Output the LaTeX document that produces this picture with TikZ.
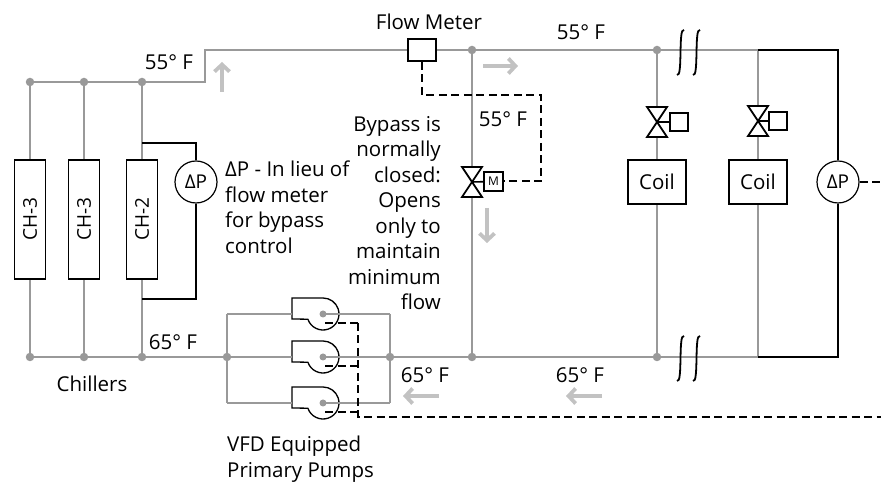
\documentclass[tikz,border=0pt]{standalone}
\usepackage{fontspec}
\setmainfont{Open Sans}
\usetikzlibrary{arrows.meta}
\definecolor{pipecol}{rgb}{0.6,0.6,0.6}
\definecolor{flowcol}{rgb}{0.76,0.76,0.76}
\tikzset{
  pipe/.style={draw=pipecol, line width=1.8bp},
  hardwire/.style={draw=black, line width=2.5bp},
  signal/.style={draw=black, line width=2bp, dash pattern=on 8bp off 4.5bp},
  tee/.style={circle, fill=pipecol, inner sep=0pt, minimum size=8.5bp},
  chiller/.style={draw, fill=white, rotate=90, line width=1.2bp, minimum width=119bp, minimum height=31bp, inner sep=0pt, font=\fontsize{19bp}{22bp}\selectfont},
  coilbox/.style={draw, fill=white, line width=1.8bp, minimum width=58bp, minimum height=44bp, inner sep=0pt},
  dpgauge/.style={draw, fill=white, circle, line width=1.2bp, minimum size=42bp, inner sep=0pt, font=\fontsize{19bp}{22bp}\selectfont},
  actbox/.style={draw, fill=white, line width=1.6bp, minimum size=18bp, inner sep=0pt},
  meterbox/.style={draw, fill=white, line width=1.8bp, minimum width=28bp, minimum height=22bp, inner sep=0pt},
  flowdir/.style={draw=flowcol, line width=3.8bp, -{Straight Barb[length=7bp,width=15bp]}},
  breakmark/.style={draw=black, line width=1.8bp},
  note/.style={inner sep=0pt},
  valvesym/.pic={\draw[line width=1.8bp, fill=white, line join=miter] (-10,15) -- (10,15) -- (-10,-15) -- (10,-15) -- cycle;},
  pumpsym/.pic={\draw[line width=1.3bp, fill=white] (0,16) -- (-31,16) -- (-31,-5) -- (-15.13,-5.21) arc[start angle=199, end angle=450, radius=16bp];}
}
\begin{document}
\begin{tikzpicture}[x=1bp,y=1bp,line join=miter,font=\fontsize{20.5bp}{25.5bp}\selectfont]
  \useasboundingbox (0,0) rectangle (881,487);
%%
  % Node: supply and return junctions
  \node[tee] (s1) at (30,405) {};
  \node[tee] (s2) at (84,405) {};
  \node[tee] (s3) at (142,405) {};
  \coordinate (riseb) at (205,405);
  \coordinate (riset) at (205,437);
  \node[tee] (sbyp) at (472,437) {};
  \node[tee] (scoil1) at (657,437) {};
  \coordinate (scoil2) at (758,437);
  \node[tee] (r1) at (30,130) {};
  \node[tee] (r2) at (84,130) {};
  \node[tee] (r3) at (142,130) {};
  \node[tee] (psuc) at (227,130) {};
  \coordinate (psuct) at (227,173);
  \coordinate (psucb) at (227,84);
  \node[tee] (pdis) at (390,130) {};
  \coordinate (pdist) at (390,173);
  \coordinate (pdisb) at (390,84);
  \node[tee] (rbyp) at (472,130) {};
  \node[tee] (rcoil1) at (657,130) {};
  \coordinate (rcoil2) at (758,130);
  \coordinate (dptaps) at (142,344);
  \coordinate (dptapr) at (142,188);
  \coordinate (dpout) at (881,305);
  \coordinate (vfdbus) at (358,70);
  \coordinate (vfdend) at (881,70);
  % Edge: supply header
  \draw[pipe] (s1) -- (s2) -- (s3) -- (riseb) -- (riset) -- (sbyp) -- (scoil1) -- (scoil2);
  % Edge: return header
  \draw[pipe] (r1) -- (r2) -- (r3) -- (psuc);
  \draw[pipe] (pdis) -- (rbyp) -- (rcoil1) -- (rcoil2);
  \draw[pipe] (psuct) -- (psucb);
  \draw[pipe] (pdist) -- (pdisb);
  % Edge: risers
  \draw[pipe] (s1) -- (r1);
  \draw[pipe] (s2) -- (r2);
  \draw[pipe] (s3) -- (r3);
  \draw[pipe] (sbyp) -- (rbyp);
  \draw[pipe] (scoil1) -- (rcoil1);
  \draw[pipe] (scoil2) -- (rcoil2);
  % Node: chillers
  \node[chiller] (ch1) at (30,267.5) {CH-3};
  \node[chiller] (ch2) at (84,267.5) {CH-3};
  \node[chiller] (ch3) at (142,267.5) {CH-2};
  % Node: coils and gauges
  \node[coilbox] (coil1) at (657,305) {Coil};
  \node[coilbox] (coil2) at (758,305) {Coil};
  \node[dpgauge] (dp1) at (196,305) {ΔP};
  \node[dpgauge] (dp2) at (838,305) {ΔP};
  \node[meterbox] (fm) at (422,437) {};
  % Node: valves
  \coordinate (vbyp) at (472,305);
  \coordinate (vcoil1) at (657,365);
  \coordinate (vcoil2) at (758,366);
  \pic at (vbyp) {valvesym};
  \pic at (vcoil1) {valvesym};
  \pic at (vcoil2) {valvesym};
  \node[actbox, minimum size=19bp, font=\fontsize{12bp}{14bp}\selectfont] (actm) at (493.5,305.5) {M};
  \node[actbox] (act1) at (679,365) {};
  \node[actbox] (act2) at (778,366) {};
  \draw[line width=1.6bp] (vbyp) -- (actm);
  \draw[line width=1.6bp] (vcoil1) -- (act1);
  \draw[line width=1.6bp] (vcoil2) -- (act2);
  % Node: pumps
  \foreach \n/\y in {1/173,2/130,3/84} {
    \coordinate (pump\n) at (323,\y);
    \pic at (pump\n) {pumpsym};
    \draw[pipe] (psuct |- pump\n) -- ([xshift=-31bp]pump\n);
    \draw[pipe] (pump\n) -- (pdist |- pump\n);
    \node[tee, minimum size=7bp] at (pump\n) {};
    \draw[signal] ([shift={(2,-9)}]pump\n) -- (vfdbus |- 0,\y-9);
  }
  % Edge: dP gauges
  \draw[hardwire] (dptaps) -| (dp1);
  \draw[hardwire] (dp1) |- (dptapr);
  \draw[hardwire] (scoil2) -| (dp2);
  \draw[hardwire] (dp2) |- (rcoil2);
  % Edge: control signals
  \draw[signal] (fm.south) |- (541,392) |- (actm.east);
  \draw[signal] (dp2.east) -- (dpout);
  \draw[signal] (vfdbus |- 0,164) -- (vfdbus) -- (vfdend);
  % flow direction
  \draw[flowdir] (222,395) -- (222,425);
  \draw[flowdir] (483,421) -- (518,421);
  \draw[flowdir] (487,279) -- (487,244);
  \draw[flowdir] (439,91) -- (403,91);
  \draw[flowdir] (602,91) -- (566,91);
  % pipe breaks
  \foreach \bx in {677,693} {
    \draw[breakmark] (\bx,412) .. controls (\bx+6,409) and (\bx+1,460) .. (\bx+7,457);
    \draw[breakmark] (\bx,106) .. controls (\bx+6,103) and (\bx+1,154) .. (\bx+7,151);
  }
  % Node: labels
  \node[note] (t55a) at (169,424.5) {55° F};
  \node[note] (fmlbl) at (429,465) {Flow Meter};
  \node[note] (t55b) at (581,455) {55° F};
  \node[note] (t55c) at (503,368) {55° F};
  \node[note] (t65a) at (173,145) {65° F};
  \node[note] (t65b) at (425,112) {65° F};
  \node[note] (t65c) at (580,112) {65° F};
  \node[note] (chlbl) at (92,103) {Chillers};
  \node[note, align=left, anchor=north west] (vfdlbl) at (227,51) {VFD Equipped\\Primary Pumps};
  \node[note, align=left, anchor=north west] (dplbl) at (225,326) {ΔP - In lieu of\\flow meter\\for bypass\\control};
  \node[note, align=right, anchor=north east] (byplbl) at (441,371) {Bypass is\\normally\\closed:\\Opens\\only to\\maintain\\minimum\\flow};
%
\end{tikzpicture}
\end{document}
